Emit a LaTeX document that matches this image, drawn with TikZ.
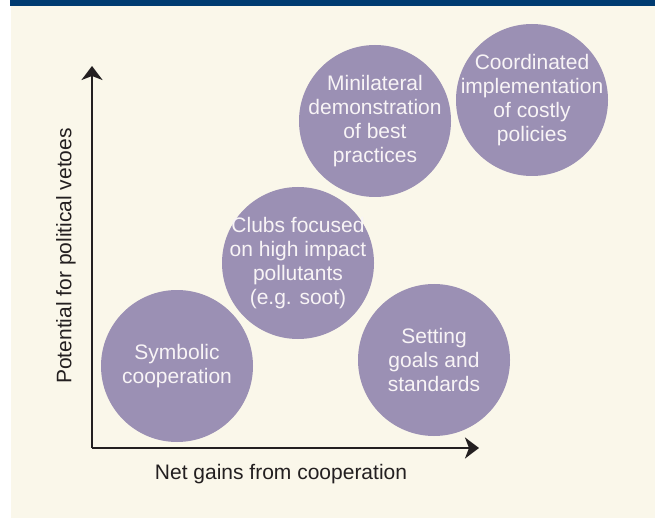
\documentclass[tikz,border=0pt]{standalone}
\usepackage{fontspec}
\setmainfont{Liberation Sans}
\usepackage{tikz}
\usetikzlibrary{arrows.meta,positioning}
\definecolor{barblue}{HTML}{003B71}
\definecolor{paper}{HTML}{FAF7EA}
\definecolor{bubblecol}{HTML}{9B90B4}
\definecolor{inkdark}{HTML}{231F20}
\definecolor{bubbletext}{HTML}{F8F4F6}

\begin{document}
\begin{tikzpicture}[x=1pt,y=-1pt,
  bubble/.style={circle,fill=bubblecol,minimum size=152pt,inner sep=-40pt,
                 align=center,text=bubbletext,font=\fontsize{21}{24}\selectfont},
  axis/.style={-{Stealth[length=14pt,width=21pt,inset=4pt]},line width=2.7pt,inkdark},
  axlabel/.style={font=\fontsize{21}{24}\selectfont,text=inkdark}
]
  % page and header bar
  \useasboundingbox (0,0) rectangle (655,518);
  \fill[paper] (11,0) rectangle (655,518);
  \fill[barblue] (10,0) rectangle (655,6);

  % axes
  \coordinate (origin) at (92,448);
  \coordinate (ytip) at (92,66);
  \coordinate (xtip) at (479,448);
  \draw[axis] (origin) -- (ytip);
  \draw[axis] (origin) -- (xtip);
  \node[axlabel,rotate=90] (ylab) at (66,256) {Potential for political vetoes};
  \node[axlabel] (xlab) at (281,474) {Net gains from cooperation};

  % bubbles
  \node[bubble] (symb) at (177,366) {Symbolic\\cooperation};
  \node[bubble] (clubs) at (298,263) {Clubs focused\\on high impact\\pollutants\\(e.g. soot)};
  \node[bubble] (setg) at (434,360) {Setting\\goals and\\standards};
  \node[bubble] (mini) at (375,121) {Minilateral\\demonstration\\of best\\practices};
  \node[bubble] (coord) at (532,100) {Coordinated\\implementation\\of costly\\policies};
\end{tikzpicture}
\end{document}
